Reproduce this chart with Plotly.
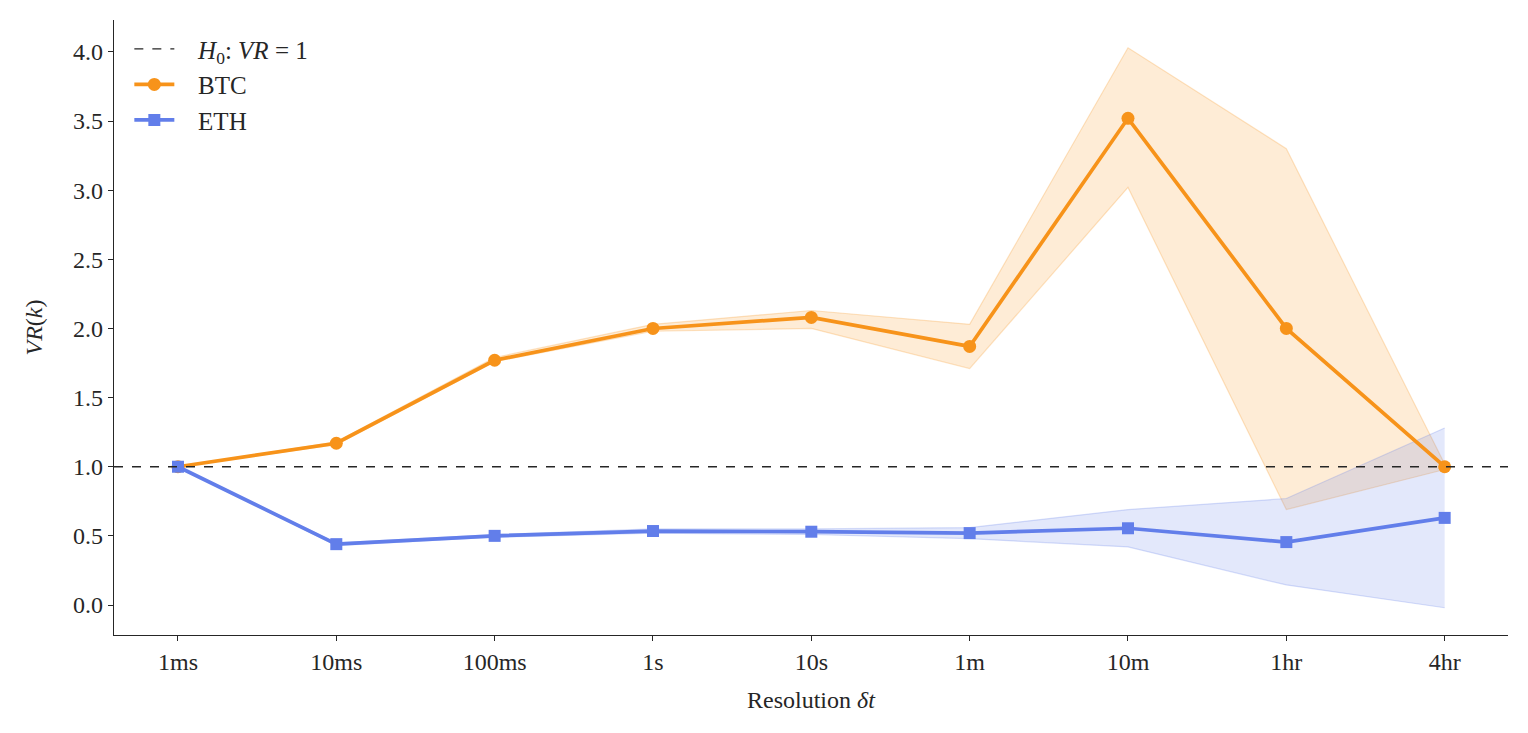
import plotly.graph_objects as go

categories = ["1ms", "10ms", "100ms", "1s", "10s", "1m", "10m", "1hr", "4hr"]
btc_vr = [1.0, 1.17, 1.77, 2.00, 2.08, 1.87, 3.52, 2.00, 1.0]
btc_upper = [1.0, 1.18, 1.79, 2.03, 2.13, 2.03, 4.03, 3.30, 1.02]
btc_lower = [1.0, 1.16, 1.76, 1.98, 2.00, 1.71, 3.02, 0.69, 0.98]
eth_vr = [1.0, 0.44, 0.50, 0.535, 0.53, 0.52, 0.555, 0.455, 0.63]
eth_upper = [1.0, 0.45, 0.51, 0.55, 0.55, 0.56, 0.69, 0.77, 1.28]
eth_lower = [1.0, 0.43, 0.49, 0.52, 0.51, 0.48, 0.42, 0.145, -0.02]
h0_value = 1.0
y_ticks = [0, 0.5, 1, 1.5, 2, 2.5, 3, 3.5, 4]
y_ticktext = ["0.0", "0.5", "1.0", "1.5", "2.0", "2.5", "3.0", "3.5", "4.0"]

BTC_C = "#F7931A"
ETH_C = "#627EEA"
x = list(range(len(categories)))
FONT = "Liberation Serif"
FS = 24
TXT = "#262626"
PAD = "&nbsp;&nbsp;&nbsp;"

fig = go.Figure()

# bands
for up, lo, rgba_fill, rgba_line in [
    (btc_upper, btc_lower, "rgba(247,147,26,0.18)", "rgba(247,147,26,0.25)"),
    (eth_upper, eth_lower, "rgba(98,126,234,0.18)", "rgba(98,126,234,0.25)"),
]:
    fig.add_trace(go.Scatter(x=x, y=lo, mode="lines", line=dict(color=rgba_line, width=1.2),
                             showlegend=False, hoverinfo="skip"))
    fig.add_trace(go.Scatter(x=x, y=up, mode="lines", line=dict(color=rgba_line, width=1.2),
                             fill="tonexty", fillcolor=rgba_fill, showlegend=False, hoverinfo="skip"))

# reference line
fig.add_shape(type="line", xref="paper", x0=0, x1=1, yref="y", y0=h0_value, y1=h0_value,
              line=dict(color=TXT, width=1.3, dash="dash"), layer="above")
fig.add_trace(go.Scatter(x=[None], y=[None], mode="lines",
                         line=dict(color=TXT, width=1.3, dash="dash"),
                         name=PAD + "<i>H</i><sub>0</sub>: <i>VR</i> = 1"))

fig.add_trace(go.Scatter(x=x, y=btc_vr, mode="lines+markers", name=PAD + "BTC",
                         line=dict(color=BTC_C, width=3.7),
                         marker=dict(symbol="circle", size=13, color=BTC_C)))
fig.add_trace(go.Scatter(x=x, y=eth_vr, mode="lines+markers", name=PAD + "ETH",
                         line=dict(color=ETH_C, width=3.7),
                         marker=dict(symbol="square", size=12, color=ETH_C)))

axis_common = dict(showline=True, linecolor=TXT, linewidth=1.2, ticks="outside",
                   ticklen=5, tickwidth=1.2, tickcolor=TXT, showgrid=False, zeroline=False,
                   automargin=False,
                   tickfont=dict(family=FONT, size=FS, color=TXT))

fig.update_layout(
    width=1512, height=717,
    paper_bgcolor="white", plot_bgcolor="white",
    margin=dict(l=106, r=12, t=12, b=90, autoexpand=False),
    font=dict(family=FONT, size=FS, color=TXT),
    showlegend=True,
    legend=dict(x=0.011, y=0.99, xanchor="left", yanchor="top", bgcolor="rgba(0,0,0,0)",
                traceorder="normal", font=dict(family=FONT, size=FS + 1), itemwidth=40),
    xaxis=dict(axis_common, range=[-0.404, 8.4], tickmode="array", tickvals=x, ticktext=categories),
    yaxis=dict(axis_common, range=[-0.217, 4.231], tickmode="array",
               tickvals=y_ticks, ticktext=y_ticktext),
    annotations=[
        dict(text="Resolution <i>δt</i>", xref="paper", yref="paper", x=0.5, y=-0.1057,
             xanchor="center", yanchor="middle", showarrow=False,
             font=dict(family=FONT, size=FS, color=TXT)),
        dict(text="<i>VR</i>(<i>k</i>)", xref="paper", yref="paper", x=-0.0581, y=0.5,
             xanchor="center", yanchor="middle", showarrow=False, textangle=-90,
             font=dict(family=FONT, size=FS, color=TXT)),
    ],
)

fig.write_html("out.html")
